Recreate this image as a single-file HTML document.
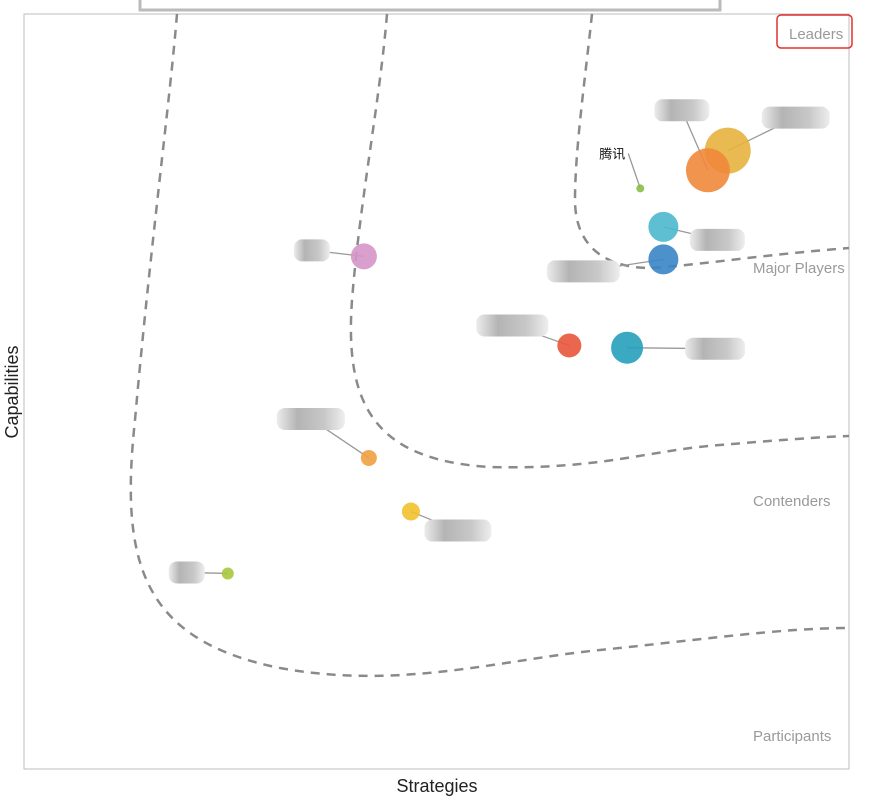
<!DOCTYPE html>
<html><head><meta charset="utf-8"><style>
body{margin:0;background:#fff;width:869px;height:803px;overflow:hidden;font-family:"Liberation Sans","Noto Sans CJK SC",sans-serif}
</style></head><body>
<svg width="869" height="803" viewBox="0 0 869 803">
<defs>
<linearGradient id="lg" x1="0" x2="1"><stop offset="0" stop-color="#ececec"/><stop offset="0.3" stop-color="#b4b4b4"/><stop offset="0.7" stop-color="#c8c8c8"/><stop offset="1" stop-color="#eeeeee"/></linearGradient>
</defs>
<rect x="140" y="-2" width="580" height="12" fill="#fff" stroke="#bbb" stroke-width="3"/>
<rect x="24" y="14" width="825" height="755" fill="none" stroke="#bdbdbd" stroke-width="1"/>
<g fill="none" stroke="#8a8a8a" stroke-width="2.5" stroke-dasharray="9,7">
<path d="M177,14 C170,100 150,250 135,420 C120,560 140,640 280,668 C400,690 500,660 600,650 C700,640 780,628 849,628"/>
<path d="M387,14 C380,100 360,200 352,300 C345,400 370,460 490,467 C600,470 650,450 720,445 C780,440 820,437 849,436"/>
<path d="M592,14 C585,80 575,150 575,200 C575,250 610,268 650,268 C700,265 760,255 849,248"/>
</g>
<g font-size="15" fill="#9a9a9a">
<rect x="777" y="15" width="75" height="33" rx="4" fill="none" stroke="#e03030" stroke-width="1.5"/>
<text x="789" y="39">Leaders</text>
<text x="753" y="273">Major Players</text>
<text x="753" y="506">Contenders</text>
<text x="753" y="741">Participants</text>
</g>
<text x="437" y="792" text-anchor="middle" font-size="18" fill="#222">Strategies</text>
<text transform="translate(18,392) rotate(-90)" text-anchor="middle" font-size="18" fill="#222">Capabilities</text>
<g id="lines"></g><g id="boxes"></g><g id="marks"></g>
</svg>
<script>
const names=["vendor-a","vendor-b","tencent","vendor-c","vendor-d","vendor-e","vendor-f","vendor-g","vendor-h","vendor-i","vendor-j"];
const strategies=[85.3,82.9,74.7,77.5,77.5,66.1,73.1,41.2,41.8,46.9,24.7];
const capabilities=[81.9,79.3,76.9,71.8,67.5,56.1,55.8,67.9,41.2,34.1,25.9];
const sizes=[23,22,4,15,15,12,16,13,8,9,6];
const colors=["#E8B23F","#F0883A","#8BBE4A","#4BB8CC","#3A85C6","#E8553A","#25A0BA","#D696C8","#F0A040","#F2C12E","#A8C83C"];
const labels=["","","腾讯","","","","","","","",""];
const labelDx=[68,-26,-12,54,-80,-57,88,-52,-58,47,-41];
const labelDy=[-33,-60,-35,13,12,-20,1,-6,-39,19,-1];
const labelW=[68,55,0,55,73,72,60,36,68,67,36];
const X=v=>24+v/100*825, Y=v=>769-v/100*755;
const NS="http://www.w3.org/2000/svg";
const gl=document.getElementById('lines'),gb=document.getElementById('boxes'),g=document.getElementById('marks');
for(let i=0;i<names.length;i++){
 const cx=X(strategies[i]),cy=Y(capabilities[i]);
 const lx=cx+labelDx[i],ly=cy+labelDy[i];
 const ln=document.createElementNS(NS,'line');
 ln.setAttribute('x1',cx);ln.setAttribute('y1',cy);ln.setAttribute('x2',lx);ln.setAttribute('y2',ly);
 ln.setAttribute('stroke','#999');ln.setAttribute('stroke-width','1.3');
 
 
 gl.appendChild(ln);
 if(labels[i]){
  const t=document.createElementNS(NS,'text');
  t.setAttribute('x',lx-3);t.setAttribute('y',ly+5);t.setAttribute('text-anchor','end');
  t.setAttribute('font-size','13');t.setAttribute('fill','#111');t.textContent=labels[i];
  
  
  gb.appendChild(t);
 } else {
  const w=labelW[i];
  const r=document.createElementNS(NS,'rect');
  r.setAttribute('x',lx-w/2);r.setAttribute('y',ly-11);r.setAttribute('width',w);r.setAttribute('height',22);
  r.setAttribute('rx',8);r.setAttribute('fill','url(#lg)');
  
  
  gb.appendChild(r);
 }
 const c=document.createElementNS(NS,'circle');
 c.setAttribute('cx',cx);c.setAttribute('cy',cy);c.setAttribute('r',sizes[i]);
 c.setAttribute('fill',colors[i]);c.setAttribute('fill-opacity','0.9');
 
 
 g.appendChild(c);
}
</script>
</body></html>
